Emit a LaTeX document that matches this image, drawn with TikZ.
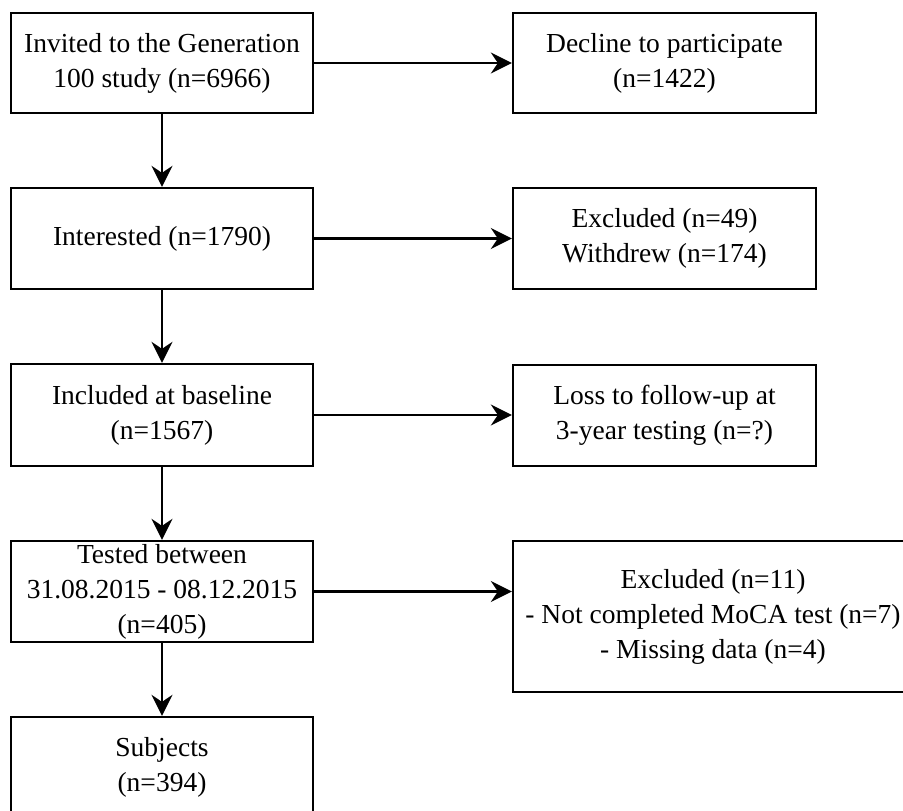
\documentclass[tikz,border=0pt]{standalone}
\usepackage{fontspec}
\setmainfont{Liberation Serif}
\usetikzlibrary{arrows.meta}
\tikzset{
  fbox/.style={draw=black, line width=2.3pt, fill=white, align=center, inner sep=0pt,
    font=\fontsize{27.5pt}{35pt}\selectfont, text=black},
  flow/.style={line width=2.3pt, -{Stealth[length=21pt,width=21pt,inset=7pt]}}
}
\begin{document}
\begin{tikzpicture}[x=1pt,y=-1pt]
\useasboundingbox (0,0) rectangle (903,811);
\node[fbox, minimum width=302pt, minimum height=100pt] (inv) at (162,63) {Invited to the Generation\\100 study (n=6966)};
\node[fbox, minimum width=303pt, minimum height=100pt] (dec) at (664.5,63) {Decline to participate\\(n=1422)};
\node[fbox, minimum width=302pt, minimum height=101pt] (int) at (162,238.5) {Interested (n=1790)};
\node[fbox, minimum width=303pt, minimum height=101pt] (exc) at (664.5,238.5) {Excluded (n=49)\\Withdrew (n=174)};
\node[fbox, minimum width=302pt, minimum height=102pt] (inc) at (162,415) {Included at baseline\\(n=1567)};
\node[fbox, minimum width=303pt, minimum height=101pt] (loss) at (664.5,415.5) {Loss to follow-up at\\3-year testing (n=?)};
\node[fbox, minimum width=302pt, minimum height=101pt] (tst) at (162,591.5) {Tested between\\31.08.2015 - 08.12.2015\\(n=405)};
\node[fbox, minimum width=400pt, minimum height=151pt] (ex11) at (713,616.5) {Excluded (n=11)\\- Not completed MoCA test (n=7)\\- Missing data (n=4)};
\node[fbox, minimum width=302pt, minimum height=100pt] (sub) at (162,767) {Subjects\\(n=394)};
\draw[flow] (inv.east) -- (inv.east -| dec.west);
\draw[flow] (int.east) -- (int.east -| exc.west);
\draw[flow] (inc.east) -- (inc.east -| loss.west);
\draw[flow] (tst.east) -- (tst.east -| ex11.west);
\draw[flow] (inv.south) -- (int.north);
\draw[flow] (int.south) -- (inc.north);
\draw[flow] (inc.south) -- (tst.north);
\draw[flow] (tst.south) -- (sub.north);
\end{tikzpicture}
\end{document}
